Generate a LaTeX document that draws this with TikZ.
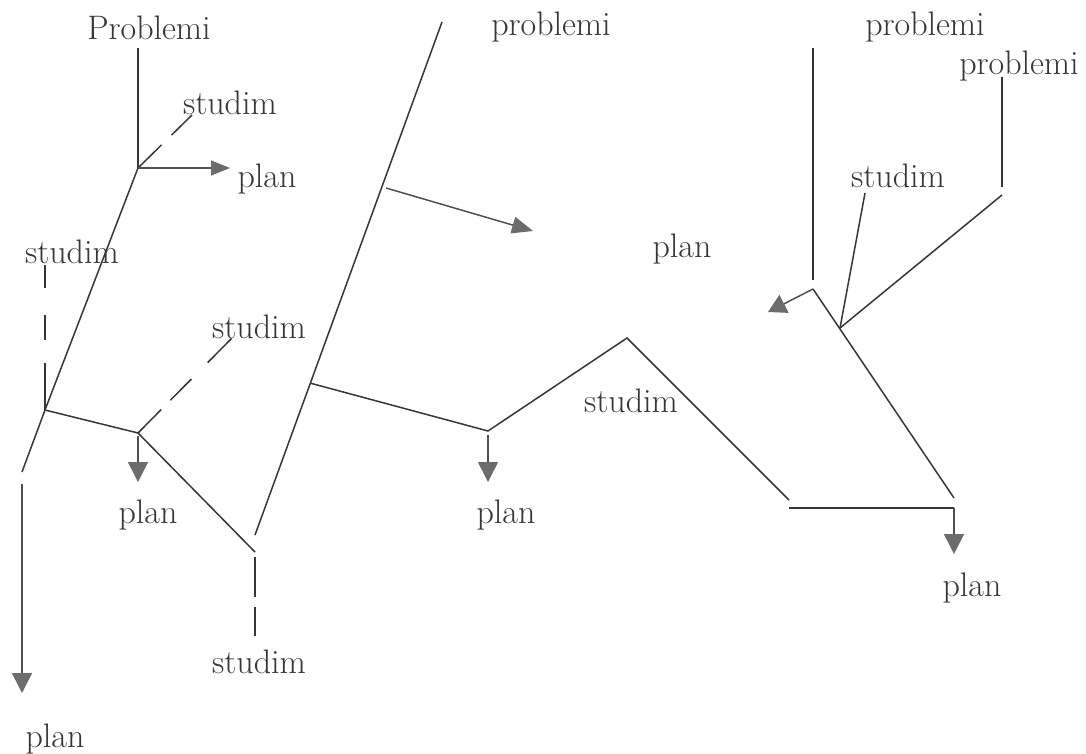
\documentclass[tikz,border=0pt]{standalone}
\usetikzlibrary{arrows.meta,calc}
\definecolor{ink}{HTML}{363636}
\definecolor{tipgray}{HTML}{6C6C6C}
\definecolor{shaft}{HTML}{505050}
\tikzset{
  lbl/.style={inner sep=0pt, anchor=base, text=ink, font=\fontsize{34}{40}\selectfont},
  link/.style={draw=ink, line width=1.5pt},
  dashlink/.style={link, dash pattern=#1},
  go/.style={draw=shaft, line width=1.5pt,
    -{Triangle[length=20pt,width=20pt,color=tipgray]}},
}
\begin{document}
\begin{tikzpicture}[x=1pt,y=-1pt]
\useasboundingbox (0,0) rectangle (1086,754);

% ---------- labels ----------
\node[lbl] (prob1) at (149,40) {Problemi};
\node[lbl] (stud1) at (230,115) {studim};
\node[lbl] (plan1) at (267,188) {plan};
\node[lbl] (stud2) at (72,263) {studim};
\node[lbl] (stud3) at (259,338) {studim};
\node[lbl] (plan2) at (148,523) {plan};
\node[lbl] (stud4) at (259,673) {studim};
\node[lbl] (plan3) at (55,747) {plan};

\node[lbl] (prob2) at (551,36) {problemi};
\node[lbl] (plan4) at (682,257) {plan};
\node[lbl] (plan5) at (506,523) {plan};
\node[lbl] (stud5) at (631,412) {studim};
\node[lbl] (plan6) at (972,596) {plan};

\node[lbl] (prob3) at (925,36) {problemi};
\node[lbl] (prob4) at (1019,75) {problemi};
\node[lbl] (stud6) at (898,188) {studim};

% ---------- left tree ----------
\coordinate (p1top) at (138,48);
\coordinate (j1) at (138,168);
\coordinate (s1end) at (192,115);
\coordinate (a1tip) at (230,168);
\coordinate (j2) at (45,410);
\coordinate (l1end) at (22,472);
\coordinate (s2top) at (45,265);
\coordinate (j3) at (138,433);
\coordinate (a2s) at (138,436);
\coordinate (a2tip) at (138,482);
\coordinate (s3end) at (232,338);
\coordinate (d1end) at (255,552);
\coordinate (s4a) at (255,557);
\coordinate (s4b) at (255,636);
\coordinate (a3s) at (22,484);
\coordinate (a3tip) at (22,693);

\draw[link] (p1top) -- (j1);
\draw[dashlink={on 33pt off 14pt on 30pt}] (j1) -- (s1end);
\draw[go,-{Triangle[length=19pt,width=15pt,color=tipgray]}] (j1) -- (a1tip);
\draw[link] (j1) -- (j2) -- (l1end);
\draw[dashlink={on 47pt off 23pt on 25pt off 27pt on 23pt}] (j2) -- (s2top);
\draw[link] (j2) -- (j3);
\draw[dashlink={on 33pt off 13pt on 30pt off 23pt on 34pt}] (j3) -- (s3end);
\draw[go] (a2s) -- (a2tip);
\draw[link] (j3) -- (d1end);
\draw[dashlink={on 40pt off 10pt on 30pt}] (s4a) -- (s4b);
\draw[go] (a3s) -- (a3tip);

% ---------- middle tree ----------
\coordinate (bt) at (442,22);
\coordinate (bb) at (255,535);
\coordinate (k2) at ($(bt)!0.704!(bb)$);
\coordinate (a4s) at (386,188);
\coordinate (a4tip) at (533,231);
\coordinate (v1) at (488,431);
\coordinate (a5s) at (488,435);
\coordinate (a5tip) at (488,482);
\coordinate (peak) at (627,338);
\coordinate (e1) at (789,500);
\coordinate (h1) at (789,508);
\coordinate (h2) at (954,508);
\coordinate (a6tip) at (954,554);

\draw[link] (bt) -- (bb);
\draw[go,-{Triangle[length=21pt,width=17pt,color=tipgray]}] (a4s) -- (a4tip);
\draw[link] (k2) -- (v1) -- (peak) -- (e1);
\draw[go] (a5s) -- (a5tip);
\draw[link] (h1) -- (h2);
\draw[go] (h2) -- (a6tip);

% ---------- right tree ----------
\coordinate (r1top) at (813,48);
\coordinate (r1bot) at (813,280);
\coordinate (rj) at (813,289);
\coordinate (a7tip) at (768,312);
\coordinate (rend) at (954,498);
\coordinate (q) at (840,328);
\coordinate (s6end) at (865,193);
\coordinate (r2bend) at (1002,195);
\coordinate (r2top) at (1002,77);
\coordinate (r2bot) at (1002,187);

\draw[link] (r1top) -- (r1bot);
\draw[go,-{Triangle[length=18pt,width=20pt,color=tipgray]}] (rj) -- (a7tip);
\draw[link] (rj) -- (rend);
\draw[link] (q) -- (s6end);
\draw[link] (q) -- (r2bend);
\draw[link] (r2top) -- (r2bot);
\end{tikzpicture}
\end{document}
